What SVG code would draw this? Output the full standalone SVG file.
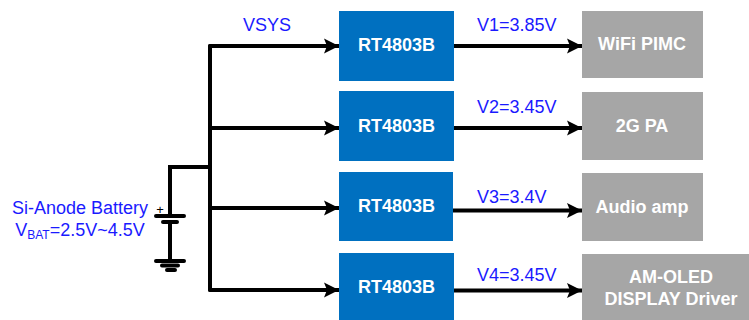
<svg xmlns="http://www.w3.org/2000/svg" width="749" height="320" viewBox="0 0 749 320">
<style>
text{font-family:"Liberation Sans",Arial,sans-serif}
.reg{fill:#0070c0}
.load{fill:#a6a6a6}
.lbl{fill:#fff;font-weight:bold;font-size:18px;text-anchor:middle}
.v{fill:#1a1aff;font-size:18px}
.w{fill:none;stroke:#000;stroke-width:4;stroke-linecap:round}
.a{fill:none;stroke:#000;stroke-width:4;stroke-linecap:round;marker-end:url(#ah)}
</style>
<defs><marker id="ah" markerUnits="userSpaceOnUse" markerWidth="16" markerHeight="16" refX="15" refY="8" orient="auto" viewBox="0 0 16 16"><path d="M0 0.500 L15 8 L0 15.500 L3 8 Z" fill="#000"/></marker></defs>
<rect width="749" height="320" fill="#fff"/>
<g id="connectors">
<path class="w" d="M210 46V290M170 216V167H210"/>
<path class="w" d="M156 216H184M163 222H177"/>
<path class="w" d="M156 261H184M162 265.500H178M167 270H175"/>
<path class="a" d="M210 46H339"/>
<path class="a" d="M210 128H339"/>
<path class="a" d="M210 208H339"/>
<path class="a" d="M210 290H339"/>
<path class="a" d="M453 46H582"/>
<path class="a" d="M453 128H582"/>
<path class="a" d="M453 210.500H582"/>
<path class="a" d="M453 290.500H582"/>
<path class="w" style="stroke-linecap:butt" d="M170 222V261"/>
</g>
<g id="battery"><text x="160" y="214" font-size="13" text-anchor="middle" fill="#000">+</text>
<text class="v" x="80" y="214" text-anchor="middle">Si-Anode Battery</text>
<text class="v" x="80" y="236" text-anchor="middle">V<tspan font-size="12" dy="3">BAT</tspan><tspan dy="-3">=2.5V~4.5V</tspan></text></g>
<text class="v" x="243" y="31">VSYS</text>
<g id="reg1"><rect class="reg" x="339" y="11" width="115" height="70"/><text class="lbl" x="396.500" y="51">RT4803B</text></g>
<g id="reg2"><rect class="reg" x="339" y="91" width="115" height="70"/><text class="lbl" x="396.500" y="132">RT4803B</text></g>
<g id="reg3"><rect class="reg" x="339" y="172" width="114" height="69"/><text class="lbl" x="396.500" y="212">RT4803B</text></g>
<g id="reg4"><rect class="reg" x="339" y="253" width="115" height="67"/><text class="lbl" x="396.500" y="293">RT4803B</text></g>
<text class="v" x="477" y="31">V1=3.85V</text>
<text class="v" x="477" y="113">V2=3.45V</text>
<text class="v" x="477" y="203">V3=3.4V</text>
<text class="v" x="477" y="281">V4=3.45V</text>
<g id="load1"><rect class="load" x="582" y="11" width="121" height="67"/><text class="lbl" x="642" y="50">WiFi PIMC</text></g>
<g id="load2"><rect class="load" x="582" y="92" width="121" height="68"/><text class="lbl" x="642" y="132">2G PA</text></g>
<g id="load3"><rect class="load" x="582" y="173" width="121" height="68"/><text class="lbl" x="642" y="212.500">Audio amp</text></g>
<g id="load4"><rect class="load" x="582" y="254" width="167" height="66"/><text class="lbl" x="671" y="283">AM-OLED</text><text class="lbl" x="671" y="305">DISPLAY Driver</text></g>
</svg>
